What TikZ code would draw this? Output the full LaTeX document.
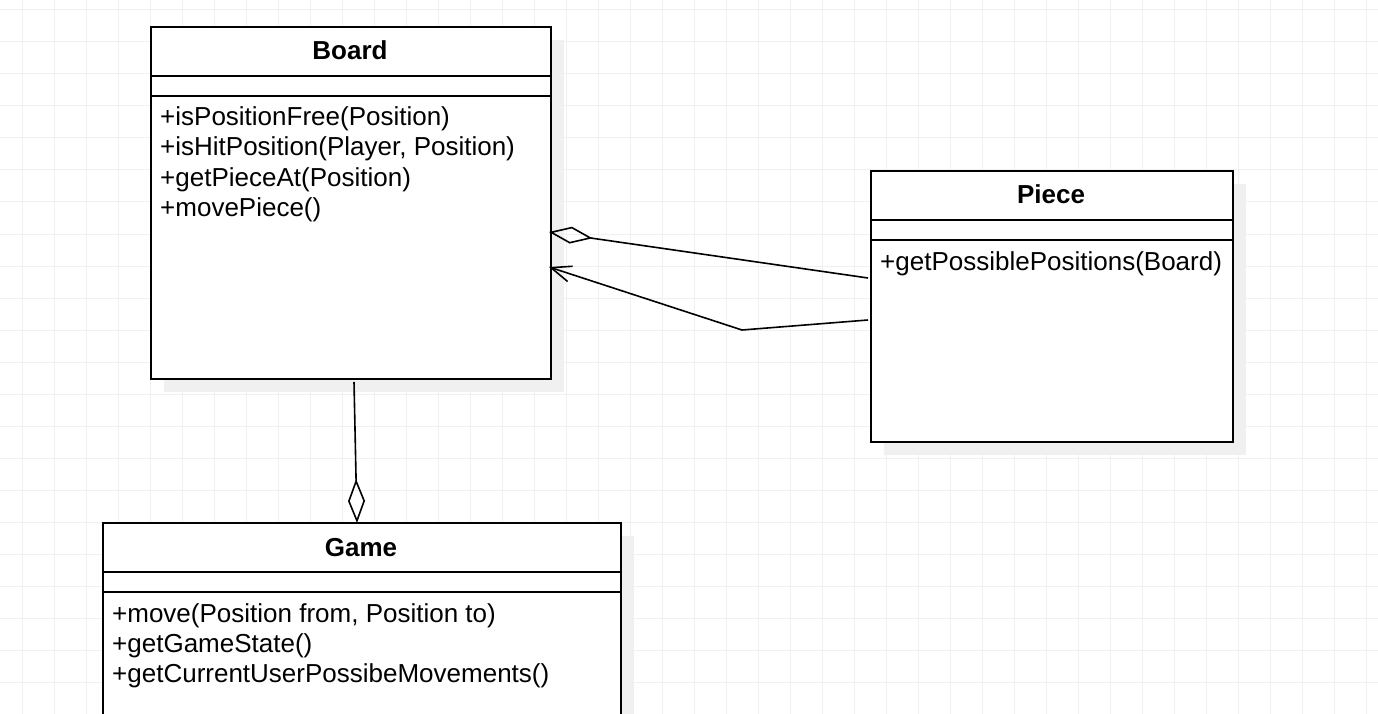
\documentclass[tikz,border=0pt]{standalone}
\usepackage{fontspec}
\setmainfont{Liberation Sans}
\usetikzlibrary{arrows.meta,calc}
\definecolor{gridc}{RGB}{240,240,240}
\definecolor{shadowc}{RGB}{240,240,240}
\tikzset{
  cls/.style={draw=black, line width=2pt, fill=white, rectangle, anchor=north west, inner sep=0pt},
  shade/.style={fill=shadowc, draw=none},
  sep/.style={draw=black, line width=2pt},
  title/.style={font=\fontsize{26}{30}\selectfont\bfseries, anchor=base, inner sep=0pt},
  meth/.style={font=\fontsize{26}{30}\selectfont, anchor=base west, inner sep=0pt},
  conn/.style={draw=black, line width=1.6pt},
  agg/.style={conn, -{Diamond[open, length=44pt, width=17pt, line width=1.6pt]}},
  assoc/.style={conn, -{Straight Barb[length=20pt, width=16pt, line width=1.6pt]}}
}
\begin{document}
\begin{tikzpicture}[x=1pt, y=-1pt]
\clip (0,0) rectangle (1378,714);
\fill[white] (0,0) rectangle (1378,714);
% grid
\foreach \gx in {22,54,...,1378} \draw[gridc, line width=1pt] (\gx,0) -- (\gx,714);
\foreach \gy in {10,42,...,714} \draw[gridc, line width=1pt] (0,\gy) -- (1378,\gy);
% shadows
\fill[shade] (164,40) rectangle (564,392);
\fill[shade] (884,184) rectangle (1246,455);
\fill[shade] (116,536) rectangle (634,760);
% Board
\node[cls, minimum width=400pt, minimum height=352pt] (board) at (150,26) {};
\draw[sep] ($(board.north west)+(0,50)$) -- ($(board.north east)+(0,50)$);
\draw[sep] ($(board.north west)+(0,70)$) -- ($(board.north east)+(0,70)$);
\node[title] (boardT) at (350,60) {Board};
\node[meth] (bm1) at (160,126) {+isPositionFree(Position)};
\node[meth] (bm2) at (160,156) {+isHitPosition(Player, Position)};
\node[meth] (bm3) at (160,186) {+getPieceAt(Position)};
\node[meth] (bm4) at (160,216) {+movePiece()};
% Piece
\node[cls, minimum width=362pt, minimum height=271pt] (piece) at (870,170) {};
\draw[sep] ($(piece.north west)+(0,50)$) -- ($(piece.north east)+(0,50)$);
\draw[sep] ($(piece.north west)+(0,70)$) -- ($(piece.north east)+(0,70)$);
\node[title] (pieceT) at (1051,204) {Piece};
\node[meth] (pm1) at (880,270) {+getPossiblePositions(Board)};
% Game
\node[cls, minimum width=518pt, minimum height=220pt] (game) at (102,522) {};
\draw[sep] ($(game.north west)+(0,50)$) -- ($(game.north east)+(0,50)$);
\draw[sep] ($(game.north west)+(0,70)$) -- ($(game.north east)+(0,70)$);
\node[title] (gameT) at (361,556) {Game};
\node[meth] (gm1) at (112,622) {+move(Position from, Position to)};
\node[meth] (gm2) at (112,652) {+getGameState()};
\node[meth] (gm3) at (112,682) {+getCurrentUserPossibeMovements()};
% connector anchors
\coordinate (pA) at ($(piece.north west)+(-2,108)$);
\coordinate (bA) at ($(board.north east)+(-3,206)$);
\coordinate (pB) at ($(piece.north west)+(-2,150)$);
\coordinate (mid) at (742,330);
\coordinate (bB) at ($(board.north east)+(-3,241)$);
\coordinate (bC) at ($(board.south west)+(204,2)$);
\coordinate (gC) at ($(game.north west)+(255,1)$);
% connectors
\draw[agg] (pA) -- (bA);
\draw[assoc] (pB) -- (mid) -- (bB);
\draw[agg] (bC) -- (gC);
\end{tikzpicture}
\end{document}
